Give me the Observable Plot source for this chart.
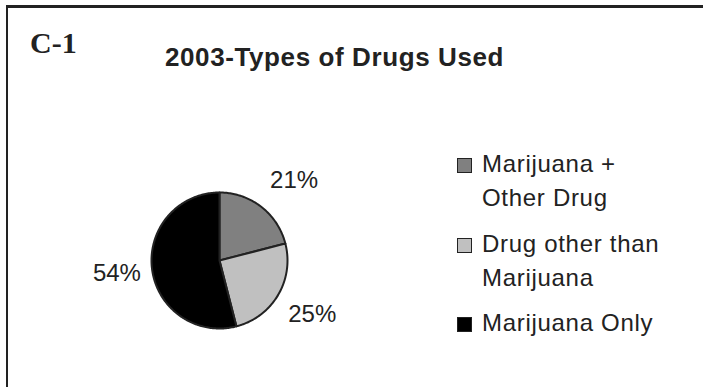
<!DOCTYPE html>
<html>
<head>
<meta charset="utf-8">
<script src="https://cdn.jsdelivr.net/npm/d3@7"></script>
<script src="https://cdn.jsdelivr.net/npm/@observablehq/plot@0.6"></script>
<style>
  html, body { margin: 0; padding: 0; background: #fff; }
  #wrap { position: relative; width: 703px; height: 387px; overflow: hidden; background: #fff;
          font-family: "Liberation Sans", Arial, Helvetica, sans-serif; color: #222; }
  #chart { position: absolute; left: 0; top: 0; }
  #frame { position: absolute; left: 6px; top: 5px; width: 760px; height: 440px;
           border-left: 2.5px solid #222; border-top: 3px solid #222; box-sizing: border-box; }
  #tag { position: absolute; left: 30px; top: 26px; font-family: "Liberation Serif", "Times New Roman", serif;
         font-weight: bold; font-size: 30px; line-height: 34px; color: #222; }
  #title { position: absolute; left: 165px; top: 40px; font-weight: bold; font-size: 26px; line-height: 34px; color: #222; letter-spacing: 0.6px; }
  #legend { position: absolute; left: 482px; top: 147px; width: 200px; }
  .item { position: relative; font-size: 24px; line-height: 34.3px; margin-bottom: 11px; color: #222; letter-spacing: 0.7px; }
  .sw { position: absolute; left: -25px; top: 11px; width: 15px; height: 15px; box-sizing: border-box;
        border: 1.5px solid #222; }
</style>
</head>
<body>
<div id="wrap">
  <div id="chart"></div>
  <div id="frame"></div>
  <div id="tag"></div>
  <div id="title"></div>
  <div id="legend"></div>
</div>
<script>
// ---- data ----
const tagText = "C-1";
const titleText = "2003-Types of Drugs Used";
const categories = ["Marijuana + Other Drug", "Drug other than Marijuana", "Marijuana Only"];
const legendLines = [["Marijuana +", "Other Drug"], ["Drug other than", "Marijuana"], ["Marijuana Only"]];
const values = [21, 25, 54];
const colors = ["#808080", "#c0c0c0", "#000000"];

// ---- layout ----
const W = 703, H = 387;
const cx = 219, cy = 260, R = 68;

document.getElementById("tag").textContent = tagText;
document.getElementById("title").textContent = titleText;

// pie angles (clockwise from 12 o'clock)
const total = d3.sum(values);
let acc = 0;
const slices = categories.map((c, i) => {
  const a0 = acc / total * 2 * Math.PI;
  acc += values[i];
  const a1 = acc / total * 2 * Math.PI;
  return {cat: c, value: values[i], a0, a1};
});

const polyPts = [];
for (const s of slices) {
  polyPts.push({cat: s.cat, x: 0, y: 0});
  const n = Math.max(2, Math.ceil((s.a1 - s.a0) / (Math.PI / 180)));
  for (let k = 0; k <= n; k++) {
    const a = s.a0 + (s.a1 - s.a0) * k / n;
    polyPts.push({cat: s.cat, x: Math.sin(a), y: Math.cos(a)});
  }
  polyPts.push({cat: s.cat, x: 0, y: 0});
}

const labelR = 1.55;
const labels = slices.map((s, i) => {
  const m = (s.a0 + s.a1) / 2;
  return {i, text: s.value + "%", x: labelR * Math.sin(m), y: labelR * Math.cos(m)};
});

const plot = Plot.plot({
  width: W, height: H,
  margin: 0,
  style: {background: "transparent", fontFamily: "'Liberation Sans', Arial, sans-serif"},
  x: {domain: [-1, 1], range: [cx - R, cx + R], axis: null},
  y: {domain: [-1, 1], range: [cy + R, cy - R], axis: null},
  color: {domain: categories, range: colors},
  marks: [
    Plot.line(polyPts, {x: "x", y: "y", z: "cat", fill: "cat", stroke: "#222", strokeWidth: 2, strokeLinejoin: "round", curve: "linear"}),
    Plot.text(labels.filter(d => d.i === 0), {x: "x", y: "y", text: "text", fontSize: 24, fill: "#222", dx: 10, dy: 3}),
    Plot.text(labels.filter(d => d.i !== 0), {x: "x", y: "y", text: "text", fontSize: 24, fill: "#222", dx: 2})
  ]
});
document.getElementById("chart").appendChild(plot);

// legend
const leg = document.getElementById("legend");
categories.forEach((c, i) => {
  const it = document.createElement("div");
  it.className = "item";
  it.title = c;
  const sw = document.createElement("span");
  sw.className = "sw";
  sw.style.background = colors[i];
  it.appendChild(sw);
  legendLines[i].forEach((ln, j) => {
    if (j > 0) it.appendChild(document.createElement("br"));
    it.appendChild(document.createTextNode(ln));
  });
  leg.appendChild(it);
});
</script>
</body>
</html>
